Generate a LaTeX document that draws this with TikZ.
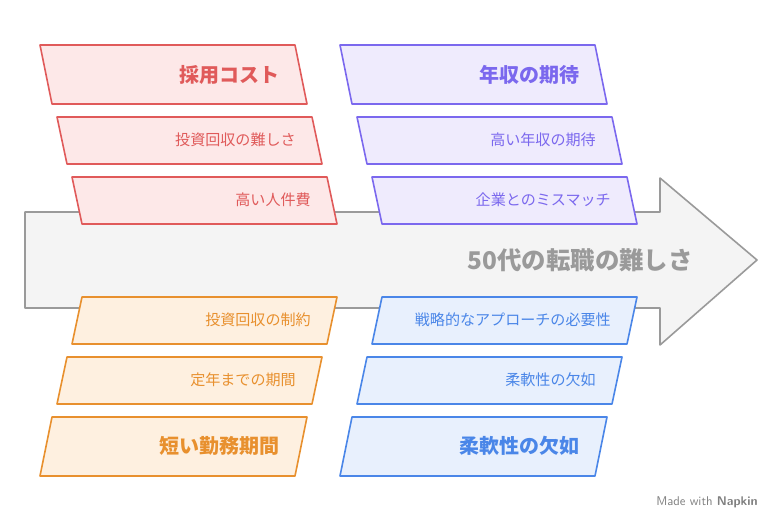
\documentclass[tikz,border=0pt]{standalone}
\usepackage{fontspec}
\newfontfamily\jp{Noto Sans CJK JP}
\definecolor{redL}{HTML}{E05A5A}\definecolor{redF}{HTML}{FDE8E8}
\definecolor{purL}{HTML}{7B68EE}\definecolor{purF}{HTML}{EFEBFD}
\definecolor{orgL}{HTML}{E8902E}\definecolor{orgF}{HTML}{FEF0E0}
\definecolor{bluL}{HTML}{4A86E8}\definecolor{bluF}{HTML}{E8F0FD}
\definecolor{arrF}{HTML}{F4F4F4}\definecolor{arrL}{HTML}{9A9A9A}
\tikzset{
  redbox/.style={draw=redL,fill=redF,line width=1.2pt,line join=round},
  purbox/.style={draw=purL,fill=purF,line width=1.2pt,line join=round},
  orgbox/.style={draw=orgL,fill=orgF,line width=1.2pt,line join=round},
  blubox/.style={draw=bluL,fill=bluF,line width=1.2pt,line join=round},
  big/.style={anchor=east,inner sep=0pt,font=\jp\bfseries\fontsize{15}{18}\selectfont},
  small/.style={anchor=east,inner sep=0pt,font=\jp\fontsize{11.3}{13}\selectfont}
}
% #1 style, #2 top-left x, #3 bottom-left x, #4 top y, #5 bottom y, width 255
\def\PARA#1#2#3#4#5{\draw[#1] (#2,#4) -- ++(255,0) -- (#3+255,#5) -- (#3,#5) -- cycle;}
\begin{document}
\begin{tikzpicture}[x=0.75pt,y=-0.75pt]
\useasboundingbox (0,0) rectangle (781,528);
\draw[fill=arrF,draw=arrL,line width=1.2pt,line join=round] (25,212) -- (660,212) -- (660,178) -- (757,260) -- (660,345) -- (660,308) -- (25,308) -- cycle;
\node[anchor=east,inner sep=0pt,text=arrL,font=\jp\bfseries\fontsize{18.3}{21}\selectfont] (title) at (693,260) {50代の転職の難しさ};
% upper left
\PARA{redbox}{40}{52}{45}{104}
\PARA{redbox}{57}{67}{117}{164}
\PARA{redbox}{72}{82}{177}{224}
\node[big,text=redL] (saiyo) at (280,75) {採用コスト};
\node[small,text=redL] (toshi) at (296,140) {投資回収の難しさ};
\node[small,text=redL] (jinken) at (311,200) {高い人件費};
% upper right
\PARA{purbox}{340}{352}{45}{104}
\PARA{purbox}{357}{367}{117}{164}
\PARA{purbox}{372}{382}{177}{224}
\node[big,text=purL] (nenshu) at (580,75) {年収の期待};
\node[small,text=purL] (takai) at (596,140) {高い年収の期待};
\node[small,text=purL] (kigyo) at (611,200) {企業とのミスマッチ};
% lower left
\PARA{orgbox}{82}{72}{297}{344}
\PARA{orgbox}{67}{57}{357}{404}
\PARA{orgbox}{52}{40}{417}{476}
\node[small,text=orgL] (seiyaku) at (311,320) {投資回収の制約};
\node[small,text=orgL] (teinen) at (296,380) {定年までの期間};
\node[big,text=orgL] (kinmu) at (280,446) {短い勤務期間};
% lower right
\PARA{blubox}{382}{372}{297}{344}
\PARA{blubox}{367}{357}{357}{404}
\PARA{blubox}{352}{340}{417}{476}
\node[small,text=bluL] (senryaku) at (611,320) {戦略的なアプローチの必要性};
\node[small,text=bluL] (junan) at (596,380) {柔軟性の欠如};
\node[big,text=bluL] (junanB) at (580,446) {柔軟性の欠如};
\node[anchor=east,inner sep=0pt,text=gray,font=\sffamily\fontsize{9.5}{11}\selectfont] (napkin) at (758,502) {Made with \textbf{Napkin}};
\end{tikzpicture}
\end{document}
